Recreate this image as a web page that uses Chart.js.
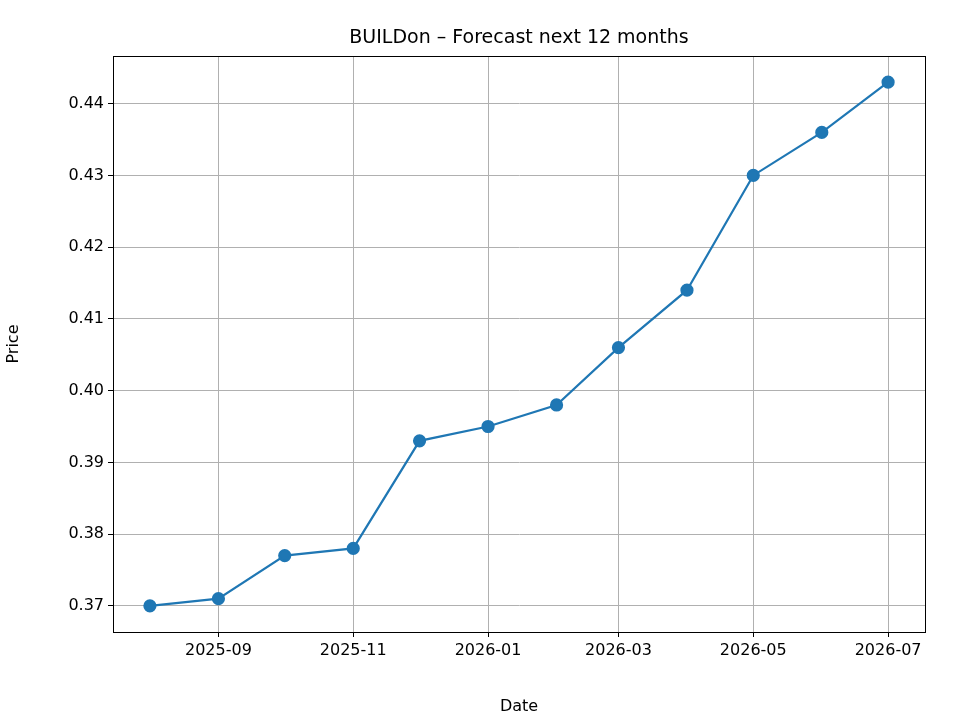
<!DOCTYPE html>
<html>
<head>
<meta charset="utf-8">
<script src="https://cdn.jsdelivr.net/npm/chart.js@4"></script>
<style>
  body { margin: 0; background: #fff; }
  #wrap { width: 960px; height: 720px; }
</style>
</head>
<body>
<div id="wrap"><canvas id="chart" width="960" height="720"></canvas></div>
<script>
// monthly forecast points
const dates = ['2025-08-01', '2025-09-01', '2025-10-01', '2025-11-01', '2025-12-01', '2026-01-01',
               '2026-02-01', '2026-03-01', '2026-04-01', '2026-05-01', '2026-06-01', '2026-07-01'];
const prices = [0.370, 0.371, 0.377, 0.378, 0.393, 0.395, 0.398, 0.406, 0.414, 0.430, 0.436, 0.443];
const xTickLabels = ['2025-09', '2025-11', '2026-01', '2026-03', '2026-05', '2026-07'];
const yTicks = [0.37, 0.38, 0.39, 0.40, 0.41, 0.42, 0.43, 0.44];
const titleText = 'BUILDon – Forecast next 12 months';

const DAY = 86400000;
const toDay = s => Date.parse(s + 'T00:00:00Z') / DAY;
const fromDay = d => new Date(d * DAY).toISOString().slice(0, 7);

const xs = dates.map(toDay);
const xPad = (xs[xs.length - 1] - xs[0]) * 0.05;
const yPad = (Math.max(...prices) - Math.min(...prices)) * 0.05;

const font = { family: 'DejaVu Sans', size: 16 };
const gridColor = '#b0b0b0';

new Chart(document.getElementById('chart'), {
    type: 'line',
    data: {
        datasets: [{
            data: xs.map((x, i) => ({ x: x, y: prices[i] })),
            borderColor: '#1f77b4',
            backgroundColor: '#1f77b4',
            borderWidth: 2.2,
            pointRadius: 5.5,
            pointHoverRadius: 5.5,
            tension: 0
        }]
    },
    options: {
        responsive: false,
        animation: false,
        devicePixelRatio: 1,
        layout: { padding: { left: 0, right: 35, top: 56, bottom: 0 } },
        plugins: {
            legend: { display: false },
            tooltip: { enabled: false },
            title: { display: false }
        },
        scales: {
            x: {
                type: 'linear',
                min: xs[0] - xPad,
                max: xs[xs.length - 1] + xPad,
                afterBuildTicks: axis => {
                    axis.ticks = xTickLabels.map(l => ({ value: toDay(l + '-01') }));
                },
                afterFit: axis => { axis.height = 88; },
                ticks: {
                    color: '#000', font: font, autoSkip: false, maxRotation: 0, padding: 4,
                    callback: v => fromDay(v)
                },
                grid: { color: gridColor, tickColor: '#000', tickLength: 5 },
                border: { color: '#000', width: 1 },
                title: { display: true, text: 'Date', color: '#000', font: font, padding: { top: 2 } }
            },
            y: {
                min: Math.min(...prices) - yPad,
                max: Math.max(...prices) + yPad,
                afterBuildTicks: axis => {
                    axis.ticks = yTicks.map(v => ({ value: v }));
                },
                afterFit: axis => { axis.width = 113; },
                ticks: { color: '#000', font: font, padding: 4, callback: v => v.toFixed(2) },
                grid: { color: gridColor, tickColor: '#000', tickLength: 5 },
                border: { color: '#000', width: 1 },
                title: { display: true, text: 'Price', color: '#000', font: font, padding: { bottom: 6 } }
            }
        }
    },
    plugins: [{
        id: 'frame',
        afterDraw(chart) {
            const a = chart.chartArea, c = chart.ctx;
            c.save();
            c.strokeStyle = '#000';
            c.lineWidth = 1;
            c.strokeRect(a.left + 0.5, a.top + 0.5, a.right - a.left, a.bottom - a.top);
            c.fillStyle = '#000';
            c.font = '19px "DejaVu Sans"';
            c.textAlign = 'center';
            c.textBaseline = 'bottom';
            c.fillText(titleText, (a.left + a.right) / 2, a.top - 8);
            c.restore();
        }
    }]
});
</script>
</body>
</html>
